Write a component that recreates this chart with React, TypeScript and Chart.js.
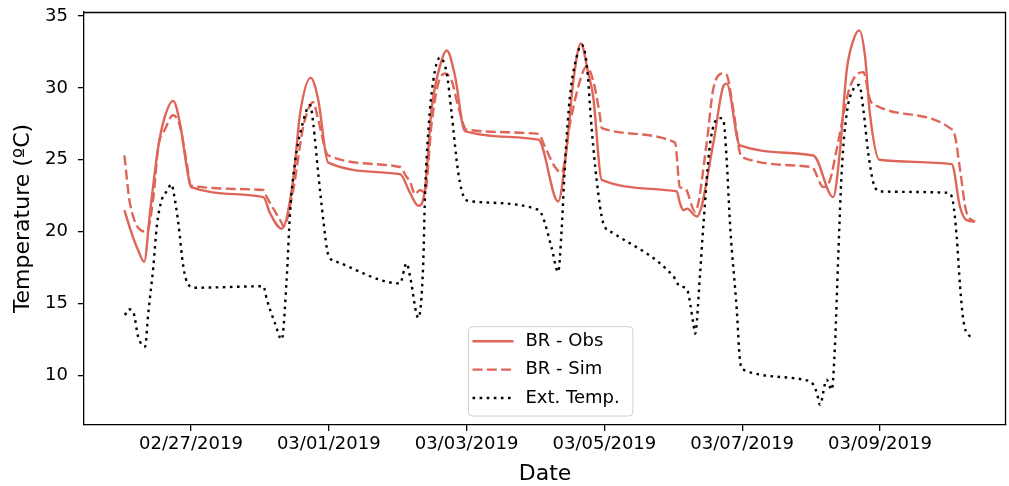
import React, { useEffect, useRef } from 'react';
import { Chart, registerables } from 'chart.js';

Chart.register(...registerables);

// ---- Data (x in hours since 02/26/2019 00:00, y in °C) ----
const tickHours = [24, 72, 120, 168, 216, 264];
const tickLabels = ['02/27/2019', '03/01/2019', '03/03/2019', '03/05/2019', '03/07/2019', '03/09/2019'];
const yTicks = [10, 15, 20, 25, 30, 35];
const X_MIN = -13.27;
const X_MAX = 307.9;
const Y_MIN = 6.55;
const Y_MAX = 35.28;

const obsHours = [0.8, 3.3, 5.6, 7.7, 9.7, 12.6, 14.9, 17.8, 20.2, 22.5, 24.0, 49.2, 51.5, 55.6, 59.6, 62.0, 65.7, 68.3, 71.8, 96.8, 100.3, 103.2, 105.5, 107.8, 110.7, 113.1, 116.0, 119.4, 145.0, 151.9, 154.9, 157.2, 159.8, 162.4, 164.1, 167.1, 193.2, 194.3, 195.5, 196.8, 200.2, 205.9, 209.4, 210.6, 215.2, 240.8, 247.7, 250.1, 252.4, 254.7, 256.8, 258.8, 260.5, 263.8, 289.0, 291.9, 294.2, 297.1];
const obsTemps = [21.5, 19.9, 18.7, 17.9, 21.3, 25.9, 28.0, 29.1, 27.5, 24.5, 23.1, 22.4, 21.3, 20.2, 23.6, 28.2, 30.7, 29.2, 24.8, 24.0, 22.7, 21.8, 22.9, 28.5, 31.5, 32.6, 30.8, 27.0, 26.4, 22.1, 25.9, 30.5, 33.1, 31.0, 29.4, 23.6, 22.8, 22.0, 21.5, 21.6, 21.05, 26.1, 30.1, 30.3, 26.0, 25.3, 22.4, 25.7, 31.2, 33.3, 34.0, 32.2, 28.2, 25.0, 24.7, 21.7, 20.8, 20.7];

const simHours = [0.8, 2.8, 8.6, 10.9, 12.6, 14.9, 17.8, 20.2, 22.5, 24.0, 49.2, 50.4, 55.6, 56.2, 59.6, 63.1, 65.5, 66.6, 68.3, 71.8, 96.8, 99.1, 100.3, 102.0, 103.8, 105.5, 107.8, 110.1, 112.5, 114.8, 117.1, 120.0, 145.0, 147.3, 150.8, 153.1, 156.0, 159.5, 161.8, 164.1, 166.5, 167.1, 192.6, 194.3, 196.1, 199.6, 203.6, 205.9, 209.4, 210.6, 212.9, 215.8, 240.2, 244.3, 246.6, 248.9, 253.6, 258.2, 260.5, 263.4, 288.4, 290.1, 291.9, 294.2, 297.1];
const simTemps = [25.3, 21.9, 20.0, 22.4, 25.9, 27.1, 28.1, 27.3, 24.8, 23.2, 22.9, 22.4, 20.6, 20.35, 22.9, 27.3, 28.8, 29.0, 27.8, 25.3, 24.5, 23.8, 23.5, 22.6, 22.9, 22.7, 27.5, 30.3, 31.0, 30.5, 28.7, 27.1, 26.8, 25.9, 24.5, 24.1, 27.5, 30.5, 31.5, 30.5, 28.0, 27.2, 26.2, 23.1, 23.0, 21.4, 26.1, 29.9, 31.0, 30.9, 28.5, 25.2, 24.5, 23.1, 23.6, 25.7, 30.1, 31.1, 29.2, 28.7, 27.2, 26.7, 24.3, 21.3, 20.7];

const extHours = [1.0, 2.2, 3.9, 5.6, 8.0, 9.1, 10.9, 12.1, 13.8, 15.5, 17.3, 17.8, 19.6, 21.3, 23.1, 25.4, 49.2, 50.4, 53.3, 55.6, 57.3, 58.5, 60.2, 62.6, 65.5, 66.6, 68.3, 70.1, 71.8, 74.8, 96.8, 99.1, 100.3, 103.2, 104.9, 105.5, 106.7, 108.4, 110.7, 113.1, 114.8, 117.1, 119.4, 121.8, 143.8, 146.2, 149.6, 151.9, 153.1, 154.3, 156.0, 158.4, 160.1, 161.8, 163.6, 165.3, 167.6, 171.1, 192.0, 194.3, 196.7, 199.0, 199.6, 201.3, 202.5, 204.8, 208.3, 209.4, 210.6, 211.8, 214.1, 215.2, 216.4, 239.6, 242.0, 243.1, 245.4, 247.2, 248.3, 249.5, 250.7, 252.4, 254.7, 256.8, 258.2, 259.9, 261.7, 264.0, 287.8, 289.5, 290.7, 291.9, 293.0, 294.8, 296.5];
const extTemps = [14.2, 14.6, 14.4, 12.7, 12.0, 14.3, 17.6, 20.4, 22.2, 22.8, 23.3, 22.9, 20.6, 17.6, 16.3, 16.1, 16.2, 15.3, 13.6, 12.5, 16.6, 21.3, 24.8, 27.3, 28.8, 27.5, 24.1, 20.8, 18.4, 17.9, 16.4, 17.8, 16.9, 14.0, 17.8, 22.4, 27.1, 30.5, 32.1, 31.0, 28.2, 24.1, 22.3, 22.1, 21.6, 21.2, 18.9, 17.2, 20.1, 24.8, 29.4, 32.2, 33.0, 31.7, 27.1, 23.6, 20.6, 19.9, 16.9, 16.2, 16.0, 13.6, 12.9, 17.0, 20.5, 26.1, 27.9, 27.8, 25.0, 20.4, 14.6, 11.1, 10.4, 9.6, 8.8, 7.95, 9.7, 9.0, 12.0, 18.5, 24.3, 28.2, 29.9, 30.2, 28.5, 25.5, 23.4, 22.8, 22.7, 22.0, 19.7, 16.2, 13.9, 12.8, 12.7];

const FONT = "'DejaVu Sans', 'Liberation Sans', sans-serif";
const RED = 'rgb(222, 102, 88)';

const toPoints = (xs: number[], ys: number[]) => xs.map((x, i) => ({ x, y: ys[i] }));

const framePlugin = {
  id: 'frameAndLegend',
  afterDraw(chart: any) {
    const { ctx, chartArea } = chart;
    const { left, top, right, bottom } = chartArea;
    ctx.save();
    // top & right spines
    ctx.strokeStyle = '#000';
    ctx.lineWidth = 1.3;
    ctx.setLineDash([]);
    ctx.beginPath();
    ctx.moveTo(left, top + 0.5);
    ctx.lineTo(right - 0.5, top + 0.5);
    ctx.lineTo(right - 0.5, bottom);
    ctx.stroke();

    // legend
    const bx = left + 384.5;
    const by = top + 314.7;
    const bw = 164.4;
    const bh = 89.3;
    const r = 4;
    ctx.beginPath();
    ctx.moveTo(bx + r, by);
    ctx.lineTo(bx + bw - r, by);
    ctx.quadraticCurveTo(bx + bw, by, bx + bw, by + r);
    ctx.lineTo(bx + bw, by + bh - r);
    ctx.quadraticCurveTo(bx + bw, by + bh, bx + bw - r, by + bh);
    ctx.lineTo(bx + r, by + bh);
    ctx.quadraticCurveTo(bx, by + bh, bx, by + bh - r);
    ctx.lineTo(bx, by + r);
    ctx.quadraticCurveTo(bx, by, bx + r, by);
    ctx.closePath();
    ctx.fillStyle = 'rgba(255,255,255,0.8)';
    ctx.fill();
    ctx.strokeStyle = '#d0d0d0';
    ctx.lineWidth = 1;
    ctx.stroke();

    chart.data.datasets.forEach((ds: any, i: number) => {
      const y = by + 14.6 + i * 28.35;
      ctx.beginPath();
      ctx.strokeStyle = ds.borderColor;
      ctx.lineWidth = ds.borderWidth;
      ctx.lineCap = 'butt';
      ctx.setLineDash(ds.borderDash || []);
      ctx.moveTo(bx + 4, y);
      ctx.lineTo(bx + 45, y);
      ctx.stroke();
      ctx.setLineDash([]);
      ctx.fillStyle = '#000';
      ctx.font = `18px ${FONT}`;
      ctx.textBaseline = 'middle';
      ctx.textAlign = 'left';
      ctx.fillText(ds.label, bx + 57, y);
    });
    ctx.restore();
  },
};

export default function App() {
  const ref = useRef<HTMLCanvasElement>(null);

  useEffect(() => {
    const canvas = ref.current;
    if (!canvas) return;
    const chart = new Chart(canvas, {
      type: 'line',
      data: {
        datasets: [
          {
            label: 'BR - Obs',
            data: toPoints(obsHours, obsTemps),
            borderColor: RED,
            borderWidth: 2.4,
            borderDash: [],
            pointRadius: 0,
            cubicInterpolationMode: 'monotone',
            order: 2,
          },
          {
            label: 'BR - Sim',
            data: toPoints(simHours, simTemps),
            borderColor: RED,
            borderWidth: 2.4,
            borderDash: [10, 4.3],
            pointRadius: 0,
            cubicInterpolationMode: 'monotone',
            order: 1,
          },
          {
            label: 'Ext. Temp.',
            data: toPoints(extHours, extTemps),
            borderColor: '#000',
            borderWidth: 2.4,
            borderDash: [2.6, 4.5],
            pointRadius: 0,
            cubicInterpolationMode: 'monotone',
            order: 0,
          },
        ],
      } as any,
      options: {
        responsive: false,
        animation: false,
        devicePixelRatio: 1,
        layout: { padding: { top: 12, right: 3, left: 0, bottom: 0 } },
        plugins: {
          legend: { display: false },
          tooltip: { enabled: false },
        },
        scales: {
          x: {
            type: 'linear',
            min: X_MIN,
            max: X_MAX,
            bounds: 'data',
            afterBuildTicks: (s: any) => {
              s.ticks = tickHours.map((v) => ({ value: v }));
            },
            afterFit: (s: any) => {
              s.height = 61;
              s.paddingLeft = 0;
              s.paddingRight = 0;
            },
            ticks: {
              autoSkip: false,
              maxRotation: 0,
              minRotation: 0,
              padding: 3,
              color: '#000',
              font: { family: FONT, size: 18, lineHeight: 1.2 },
              callback: (_v: any, i: number) => tickLabels[i],
            },
            grid: {
              display: true,
              drawOnChartArea: false,
              drawTicks: true,
              tickLength: 6,
              color: '#000',
              lineWidth: 1.3,
            },
            border: { display: true, color: '#000', width: 1.3 },
            title: {
              display: true,
              text: 'Date',
              color: '#000',
              font: { family: FONT, size: 22, lineHeight: 1 },
              padding: { top: 0, bottom: 1 },
            },
          },
          y: {
            type: 'linear',
            min: Y_MIN,
            max: Y_MAX,
            bounds: 'data',
            afterBuildTicks: (s: any) => {
              s.ticks = yTicks.map((v) => ({ value: v }));
            },
            afterFit: (s: any) => {
              s.width = 84;
              s.paddingTop = 0;
              s.paddingBottom = 0;
            },
            ticks: {
              padding: 10,
              color: '#000',
              font: { family: FONT, size: 18, lineHeight: 1.2 },
              callback: (v: any) => String(v),
            },
            grid: {
              display: true,
              drawOnChartArea: false,
              drawTicks: true,
              tickLength: 6,
              color: '#000',
              lineWidth: 1.3,
            },
            border: { display: true, color: '#000', width: 1.3 },
            title: {
              display: true,
              text: 'Temperature (ºC)',
              color: '#000',
              font: { family: FONT, size: 22, lineHeight: 1 },
              padding: { top: 12, bottom: 0 },
            },
          },
        },
      } as any,
      plugins: [framePlugin],
    });
    return () => chart.destroy();
  }, []);

  return (
    <div style={{ position: 'fixed', left: 0, top: 0, width: 1009, height: 486, background: '#fff' }}>
      <canvas ref={ref} width={1009} height={486} style={{ display: 'block', width: 1009, height: 486 }} />
    </div>
  );
}
